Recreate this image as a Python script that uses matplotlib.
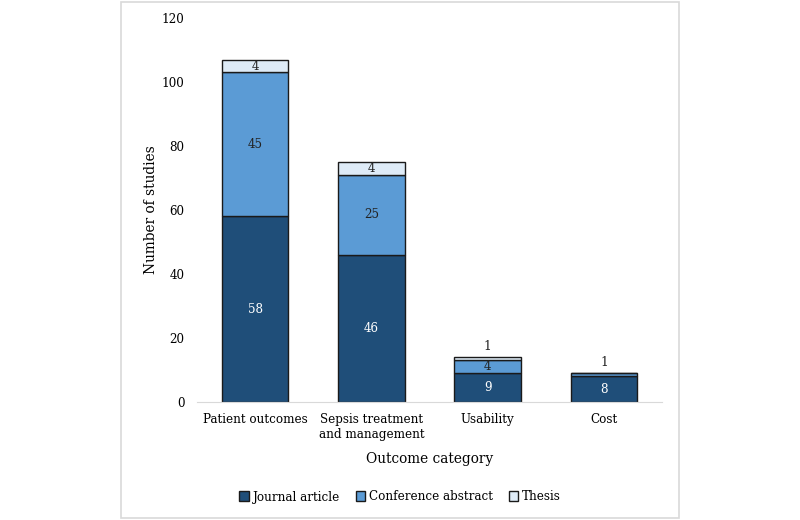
import numpy as np
import matplotlib.pyplot as plt
from matplotlib.patches import Rectangle

categories = ["Patient outcomes", "Sepsis treatment\nand management", "Usability", "Cost"]
journal = [58, 46, 9, 8]
conference = [45, 25, 4, 1]
thesis = [4, 4, 1, 0]

C_JOURNAL = "#1f4e79"
C_CONF = "#5b9bd5"
C_THESIS = "#deebf7"

plt.rcParams["font.family"] = ["DejaVu Serif"]
plt.rcParams["font.stretch"] = "condensed"

fig = plt.figure(figsize=(8, 5.2), dpi=100)
# light gray frame around the chart
fig.patches.append(Rectangle((121 / 800, 2 / 520), 558 / 800, 516 / 520, transform=fig.transFigure,
                             fill=False, edgecolor="#d9d9d9", linewidth=1.2))

ax = fig.add_axes([197 / 800, 1 - 402 / 520, 465 / 800, 384 / 520])
x = np.arange(len(categories))
w = 0.57
bottom2 = np.array(journal)
bottom3 = bottom2 + np.array(conference)

ax.bar(x, journal, w, color=C_JOURNAL, edgecolor="#1a1a1a", linewidth=1, label="Journal article")
ax.bar(x, conference, w, bottom=bottom2, color=C_CONF, edgecolor="#1a1a1a", linewidth=1, label="Conference abstract")
ax.bar(x, thesis, w, bottom=bottom3, color=C_THESIS, edgecolor="#1a1a1a", linewidth=1, label="Thesis")

fs = 9.5
for i in range(len(categories)):
    ax.text(x[i], journal[i] / 2, str(journal[i]), ha="center", va="center", color="white", fontsize=fs)
    if conference[i] >= 3:
        ax.text(x[i], bottom2[i] + conference[i] / 2, str(conference[i]), ha="center", va="center",
                color="#222222", fontsize=fs)
    else:
        ax.text(x[i], bottom3[i] + thesis[i] + 3.5, str(conference[i]), ha="center", va="center",
                color="#222222", fontsize=fs)
    if thesis[i] >= 3:
        ax.text(x[i], bottom3[i] + thesis[i] / 2, str(thesis[i]), ha="center", va="center",
                color="#222222", fontsize=fs)
    elif thesis[i] > 0:
        ax.text(x[i], bottom3[i] + thesis[i] + 3.5, str(thesis[i]), ha="center", va="center",
                color="#222222", fontsize=fs)

ax.set_xlim(-0.5, 3.5)
ax.set_ylim(0, 120)
ax.set_yticks(np.arange(0, 121, 20))
ax.set_xticks(x)
ax.set_xticklabels(categories, fontsize=fs, linespacing=1.2)
ax.tick_params(axis="y", length=0, pad=9, labelsize=fs)
ax.tick_params(axis="x", length=0, pad=8)
for s in ["top", "right", "left"]:
    ax.spines[s].set_visible(False)
ax.spines["bottom"].set_color("#d9d9d9")

ax.set_ylabel("Number of studies", fontsize=11, labelpad=3)
ax.set_xlabel("Outcome category", fontsize=11, labelpad=8)

fig.legend(loc="center", bbox_to_anchor=(0.5, 1 - 497 / 520), ncol=3, frameon=False, fontsize=fs,
           handlelength=0.7, handleheight=0.7, handletextpad=0.3, columnspacing=1.2)

plt.savefig("out.png", dpi=100)
